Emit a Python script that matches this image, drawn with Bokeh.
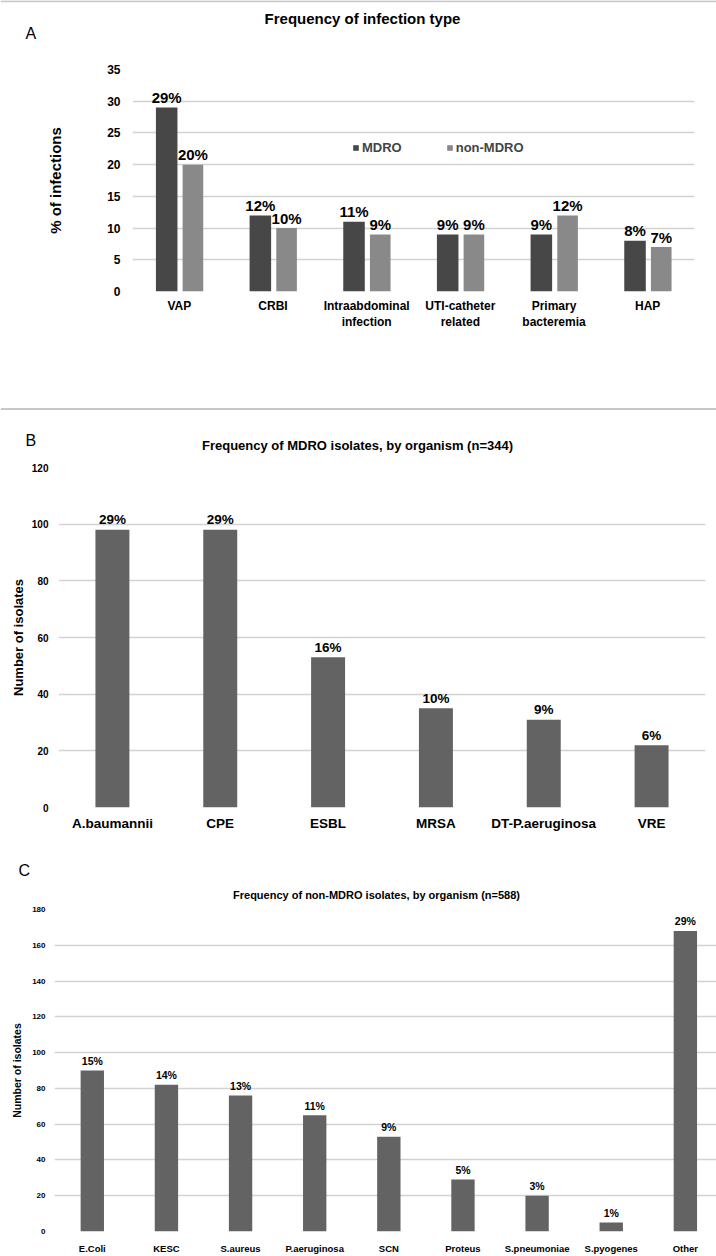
from bokeh.plotting import figure
from bokeh.models import (ColumnDataSource, FactorRange, Range1d, Legend,
                          LegendItem, FixedTicker, Span)
from bokeh.transform import dodge
from bokeh.layouts import column
from bokeh.embed import file_html
from bokeh.resources import INLINE
from bokeh.core.properties import value

FONT = "Liberation Sans"
W = 716

# ---------------- Panel A data ----------------
infection_types = ["VAP", "CRBI", "Intraabdominal\ninfection", "UTI-catheter\nrelated",
                   "Primary\nbacteremia", "HAP"]
mdro_pct = [29, 12, 11, 9, 9, 8]
nonmdro_pct = [20, 10, 9, 9, 12, 7]
mdro_pct_lbl = ["29%", "12%", "11%", "9%", "9%", "8%"]
nonmdro_pct_lbl = ["20%", "10%", "9%", "9%", "12%", "7%"]
a_yticks = [0, 5, 10, 15, 20, 25, 30, 35]

# ---------------- Panel B data ----------------
mdro_orgs = ["A.baumannii", "CPE", "ESBL", "MRSA", "DT-P.aeruginosa", "VRE"]
mdro_counts = [98, 98, 53, 35, 31, 22]
mdro_share = ["29%", "29%", "16%", "10%", "9%", "6%"]
b_yticks = [0, 20, 40, 60, 80, 100, 120]

# ---------------- Panel C data ----------------
non_orgs = ["E.Coli", "KESC", "S.aureus", "P.aeruginosa", "SCN", "Proteus",
            "S.pneumoniae", "S.pyogenes", "Other"]
non_counts = [90, 82, 76, 65, 53, 29, 20, 5, 168]
non_share = ["15%", "14%", "13%", "11%", "9%", "5%", "3%", "1%", "29%"]
c_yticks = [0, 20, 40, 60, 80, 100, 120, 140, 160, 180]

GRID = "#d2d2d2"
SEP = "#c8c8c8"


def style(p, tick_size, tick_standoff, xlab_size, xlab_standoff):
    p.xgrid.grid_line_color = None
    p.ygrid.grid_line_color = GRID
    p.ygrid.grid_line_width = 1.5
    p.outline_line_color = None
    for ax in p.axis:
        ax.axis_line_color = None
        ax.major_tick_line_color = None
        ax.minor_tick_line_color = None
        ax.major_tick_out = 0
        ax.major_tick_in = 0
        ax.minor_tick_out = 0
        ax.minor_tick_in = 0
        ax.major_label_text_font = FONT
        ax.major_label_text_font_style = "bold"
        ax.major_label_text_color = "black"
        ax.axis_label_text_font = FONT
        ax.axis_label_text_font_style = "bold"
        ax.axis_label_text_color = "black"
    p.yaxis.major_label_text_font_size = tick_size
    p.yaxis.major_label_standoff = tick_standoff
    p.xaxis.major_label_text_font_size = xlab_size
    p.xaxis.major_label_standoff = xlab_standoff


def header(height, title, title_x, title_y, title_size, letter, letter_x, letter_y,
           lines=()):
    """A strip above each panel holding its panel letter and its title."""
    h = figure(width=W, height=height, x_range=Range1d(0, W), y_range=Range1d(height, 0),
               x_axis_type=None, y_axis_type=None, toolbar_location=None,
               output_backend="svg", min_border=0, title=None, frame_align=False,
               outline_line_color=None)
    h.grid.visible = False
    for loc in lines:
        h.add_layout(Span(location=loc, dimension="width", line_color=SEP,
                          line_width=2))
    h.text(x=[title_x], y=[title_y], text=[title], text_align="center",
           text_baseline="middle", text_font=value(FONT), text_font_style="bold",
           text_font_size=title_size, text_color="black")
    h.text(x=[letter_x], y=[letter_y], text=[letter], text_align="left",
           text_baseline="middle", text_font=value(FONT), text_font_style="normal",
           text_font_size="16px", text_color="black")
    return h


# ================= Panel A =================
hA = header(60, "Frequency of infection type", 362, 18, "15px", "A", 25, 33, lines=(0.75,))

pA = figure(width=W, height=347, x_range=FactorRange(*infection_types),
            y_range=Range1d(0, 35), toolbar_location=None, output_backend="svg",
            title=None, min_border_left=132, min_border_right=22, min_border_top=9,
            min_border_bottom=116, frame_align=False)
srcA = ColumnDataSource(dict(cat=infection_types, mdro=mdro_pct, non=nonmdro_pct,
                             ml=mdro_pct_lbl, nl=nonmdro_pct_lbl))
xm = dodge("cat", -0.135, range=pA.x_range)
xn = dodge("cat", 0.145, range=pA.x_range)
rM = pA.vbar(x=xm, top="mdro", width=0.23, source=srcA, fill_color="#474747",
             line_color=None)
rN = pA.vbar(x=xn, top="non", width=0.22, source=srcA, fill_color="#898989",
             line_color=None)
for xx, col in ((xm, "ml"), (xn, "nl")):
    pA.text(x=xx, y="mdro" if col == "ml" else "non", text=col, source=srcA,
            text_align="center", text_baseline="middle", y_offset=-10,
            text_font=value(FONT), text_font_style="bold", text_font_size="15px",
            text_color="black")
pA.yaxis.ticker = FixedTicker(ticks=a_yticks)
style(pA, "12px", 12, "12px", 7)
pA.yaxis.axis_label = "% of infections"
pA.yaxis.axis_label_text_font_size = "15px"
pA.yaxis.axis_label_standoff = 40
legA = Legend(items=[LegendItem(label="MDRO", renderers=[rM]),
                     LegendItem(label="non-MDRO", renderers=[rN])],
              orientation="horizontal", location=(220, 136), glyph_width=7,
              glyph_height=7, label_standoff=3, spacing=44, padding=0, margin=0,
              label_text_font=FONT, label_text_font_style="bold",
              label_text_font_size="13px", label_height=13,
              background_fill_alpha=0, border_line_color=None)
pA.add_layout(legA)

# ================= Panel B =================
hB = header(51, "Frequency of MDRO isolates, by organism (n=344)", 357, 38, "13px",
            "B", 25, 33, lines=(1.5,))

pB = figure(width=W, height=392, x_range=FactorRange(*mdro_orgs),
            y_range=Range1d(0, 120), toolbar_location=None, output_backend="svg",
            title=None, min_border_left=58, min_border_right=11, min_border_top=9,
            min_border_bottom=43, frame_align=False)
srcB = ColumnDataSource(dict(org=mdro_orgs, n=mdro_counts, s=mdro_share))
pB.vbar(x="org", top="n", width=0.315, source=srcB, fill_color="#636363",
        line_color=None)
pB.text(x="org", y="n", text="s", source=srcB, text_align="center",
        text_baseline="middle", y_offset=-10, text_font=value(FONT),
        text_font_style="bold", text_font_size="13.5px", text_color="black")
pB.yaxis.ticker = FixedTicker(ticks=b_yticks)
style(pB, "10px", 10, "13.5px", 8)
pB.yaxis.axis_label = "Number of isolates"
pB.yaxis.axis_label_text_font_size = "13px"
pB.yaxis.axis_label_standoff = 3

# ================= Panel C =================
hC = header(53, "Frequency of non-MDRO isolates, by organism (n=588)", 376, 44, "11px",
            "C", 18, 20)

idx = list(range(len(non_orgs)))
pC = figure(width=W, height=353, x_range=Range1d(-0.51, 8.42),
            y_range=Range1d(0, 180), toolbar_location=None, output_backend="svg",
            title=None, min_border_left=54, min_border_right=0, min_border_top=6,
            min_border_bottom=22, frame_align=False)
srcC = ColumnDataSource(dict(i=idx, n=non_counts, s=non_share))
pC.vbar(x="i", top="n", width=0.315, source=srcC, fill_color="#636363",
        line_color=None)
pC.text(x="i", y="n", text="s", source=srcC, text_align="center",
        text_baseline="middle", y_offset=-9.5, text_font=value(FONT),
        text_font_style="bold", text_font_size="10.5px", text_color="black")
pC.yaxis.ticker = FixedTicker(ticks=c_yticks)
pC.xaxis.ticker = FixedTicker(ticks=idx)
pC.xaxis.major_label_overrides = {i: name for i, name in zip(idx, non_orgs)}
style(pC, "8px", 9, "9.5px", 11)
pC.yaxis.axis_label = "Number of isolates"
pC.yaxis.axis_label_text_font_size = "10.5px"
pC.yaxis.axis_label_standoff = 6

layout = column(hA, pA, hB, pB, hC, pC, spacing=0)
open("out.html", "w").write(file_html(layout, INLINE))
